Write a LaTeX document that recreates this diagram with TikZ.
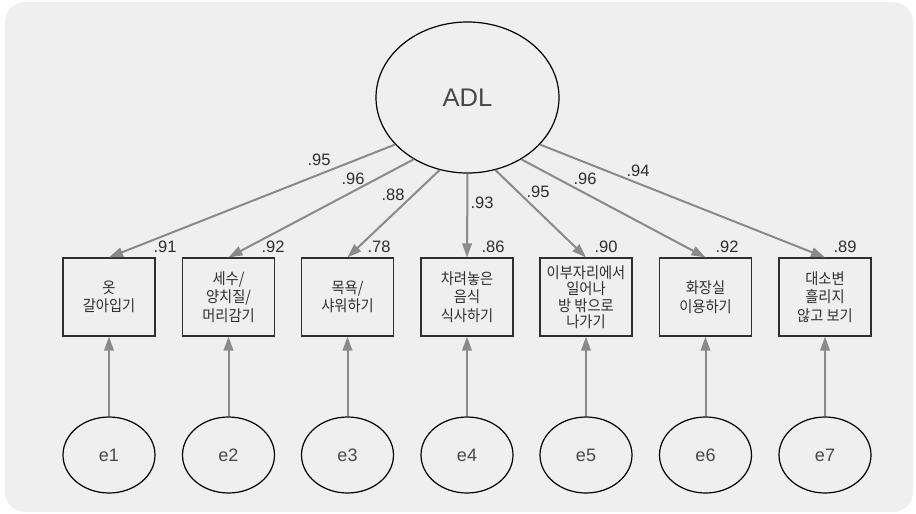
\documentclass[tikz,border=0pt]{standalone}
\usepackage{fontspec}
\setmainfont{Liberation Sans}
\newfontfamily\kr[FakeStretch=0.92]{Noto Sans CJK KR}
\usetikzlibrary{shapes.geometric,arrows.meta}
\definecolor{bg}{HTML}{EFEFEF}
\definecolor{pathgray}{HTML}{8A8A8A}
\definecolor{ink}{HTML}{2E2E2E}
\definecolor{txt}{HTML}{484848}

\begin{document}
\begin{tikzpicture}[x=1pt,y=-1pt,
  latent/.style={ellipse,draw=black,line width=1.2pt,inner sep=0pt,text=txt},
  observed/.style={rectangle,draw=ink,line width=1.2pt,minimum width=92pt,
    minimum height=78pt,inner sep=0pt,align=center,text=ink,
    font=\kr\fontsize{15.5}{18.5}\selectfont},
  loading/.style={draw=pathgray,line width=2pt,-{Triangle[length=14pt,width=9.5pt]}},
  coef/.style={font=\fontsize{16.5}{18}\selectfont,text=ink,inner sep=0pt},
]
\useasboundingbox (0,0) rectangle (916,514);
\fill[bg,rounded corners=20pt] (5,2) rectangle (913,512);

% latent factor
\node[latent,minimum width=183pt,minimum height=151pt,
      font=\fontsize{25.5}{28}\selectfont] (adl) at (467.5,97.5) {ADL};

% indicators and their error terms
\foreach \i/\x/\t in {
    1/109/{옷\\갈아입기},
    2/228.5/{세수/\\양치질/\\머리감기},
    3/347.5/{목욕/\\샤워하기},
    4/467/{차려놓은\\음식\\식사하기},
    6/705.5/{화장실\\이용하기},
    7/825/{대소변\\흘리지\\않고 보기}}{
  \node[observed] (m\i) at (\x,297) {\t};
}
\node[observed,font=\kr\fontsize{15.5}{16.5}\selectfont] (m5) at (586,297)
  {이부자리에서\\일어나\\방 밖으로\\나가기};

\foreach \i/\x in {1/109,2/228.5,3/347.5,4/467,5/586,6/705.5,7/825}{
  \node[latent,minimum width=92pt,minimum height=76pt,
        font=\fontsize{18}{20}\selectfont] (e\i) at (\x,455) {e\i};
  \draw[loading] (e\i) -- (m\i);
}

% factor loadings
\foreach \i/\a in {1/213,2/229,3/249,4/270,5/291,6/311,7/327}{
  \draw[loading] (adl.\a) -- (m\i.north);
}

% standardized loadings
\node[coef] (l1) at (319,160) {.95};
\node[coef] (l2) at (353,179) {.96};
\node[coef] (l3) at (393,195) {.88};
\node[coef] (l4) at (482,203) {.93};
\node[coef] (l5) at (538,192) {.95};
\node[coef] (l6) at (585,179) {.96};
\node[coef] (l7) at (638,171) {.94};

% squared multiple correlations
\node[coef] (r1) at (165,247) {.91};
\node[coef] (r2) at (273,247) {.92};
\node[coef] (r3) at (379,247) {.78};
\node[coef] (r4) at (493,247) {.86};
\node[coef] (r5) at (606,247) {.90};
\node[coef] (r6) at (727,247) {.92};
\node[coef] (r7) at (845,247) {.89};
\end{tikzpicture}
\end{document}
